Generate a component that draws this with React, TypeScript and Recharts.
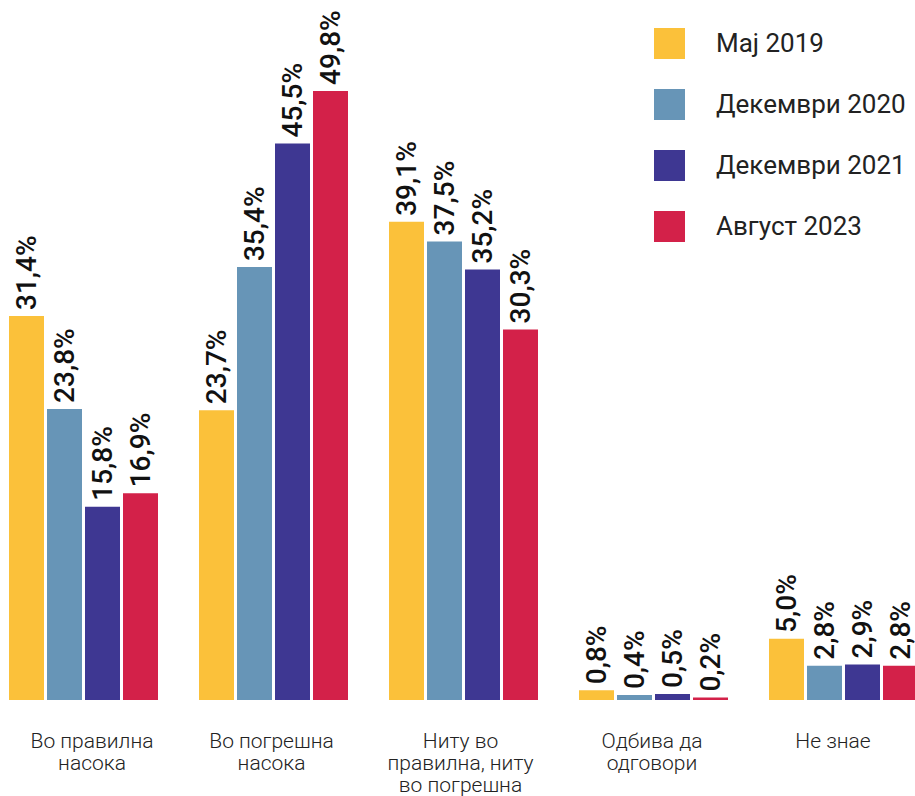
import { BarChart, Bar, XAxis, YAxis, LabelList } from "recharts";

const categories = [
  "Во правилна\nнасока",
  "Во погрешна\nнасока",
  "Ниту во\nправилна, ниту\nво погрешна",
  "Одбива да\nодговори",
  "Не знае",
];

const may2019 = [31.4, 23.7, 39.1, 0.8, 5.0];
const dec2020 = [23.8, 35.4, 37.5, 0.4, 2.8];
const dec2021 = [15.8, 45.5, 35.2, 0.5, 2.9];
const aug2023 = [16.9, 49.8, 30.3, 0.2, 2.8];

const seriesNames = ["Мај 2019", "Декември 2020", "Декември 2021", "Август 2023"];
const seriesColors = ["#FBC13A", "#6795B7", "#3E3792", "#D32149"];
const seriesKeys = ["s2019", "s2020", "s2021", "s2023"];

// small horizontal nudges for the category captions (as in the original layout)
const captionShift = [9, -1.5, -2.5, -1, -10];

const data = categories.map((name, i) => ({
  name,
  s2019: may2019[i],
  s2020: dec2020[i],
  s2021: dec2021[i],
  s2023: aug2023[i],
}));

const fmt = (v: number) => v.toFixed(1).replace(".", ",") + "%";

function ValueLabel(props: any) {
  const { x, y, width, value } = props;
  const cx = x + width / 2;
  const cy = y - 6;
  return (
    <text
      x={cx}
      y={cy}
      transform={`rotate(-90 ${cx} ${cy})`}
      textAnchor="start"
      dominantBaseline="central"
      fontFamily="Roboto"
      fontWeight={500}
      fontSize={28}
      fill="#111"
    >
      {fmt(value)}
    </text>
  );
}

function CategoryTick(props: any) {
  const { x, payload, index } = props;
  const lines = String(payload.value).split("\n");
  const tx = x + (captionShift[index] ?? 0);
  return (
    <g>
      {lines.map((l, i) => (
        <text
          key={i}
          x={tx}
          y={748 + i * 22}
          textAnchor="middle"
          fontFamily="Roboto"
          fontWeight={300}
          fontSize={21}
          fill="#222"
        >
          {l}
        </text>
      ))}
    </g>
  );
}

function LegendBox() {
  return (
    <div style={{ position: "absolute", left: 654, top: 28 }}>
      {seriesNames.map((n, i) => (
        <div
          key={n}
          style={{ display: "flex", alignItems: "center", height: 31, marginBottom: 30 }}
        >
          <div style={{ width: 31, height: 31, background: seriesColors[i] }} />
          <span
            style={{
              marginLeft: 31,
              fontFamily: "Roboto",
              fontSize: 26,
              color: "#222",
              lineHeight: "31px",
              whiteSpace: "nowrap",
            }}
          >
            {n}
          </span>
        </div>
      ))}
    </div>
  );
}

export default function App() {
  return (
    <div
      style={{
        position: "absolute",
        left: 0,
        top: 0,
        width: 915,
        height: 796,
        overflow: "hidden",
        background: "#fff",
      }}
    >
      <div style={{ position: "absolute", left: -12.5, top: 0 }}>
        <BarChart
          width={950}
          height={796}
          data={data}
          margin={{ top: 88.5, right: 0, bottom: 66, left: 0 }}
          barSize={35}
          barGap={3}
        >
          <XAxis
            dataKey="name"
            axisLine={false}
            tickLine={false}
            tick={<CategoryTick />}
            interval={0}
            height={30}
          />
          <YAxis hide domain={[0, 50]} allowDataOverflow />
          {seriesKeys.map((k, i) => (
            <Bar
              key={k}
              dataKey={k}
              name={seriesNames[i]}
              fill={seriesColors[i]}
              isAnimationActive={false}
            >
              <LabelList dataKey={k} content={<ValueLabel />} />
            </Bar>
          ))}
        </BarChart>
      </div>
      <LegendBox />
    </div>
  );
}
